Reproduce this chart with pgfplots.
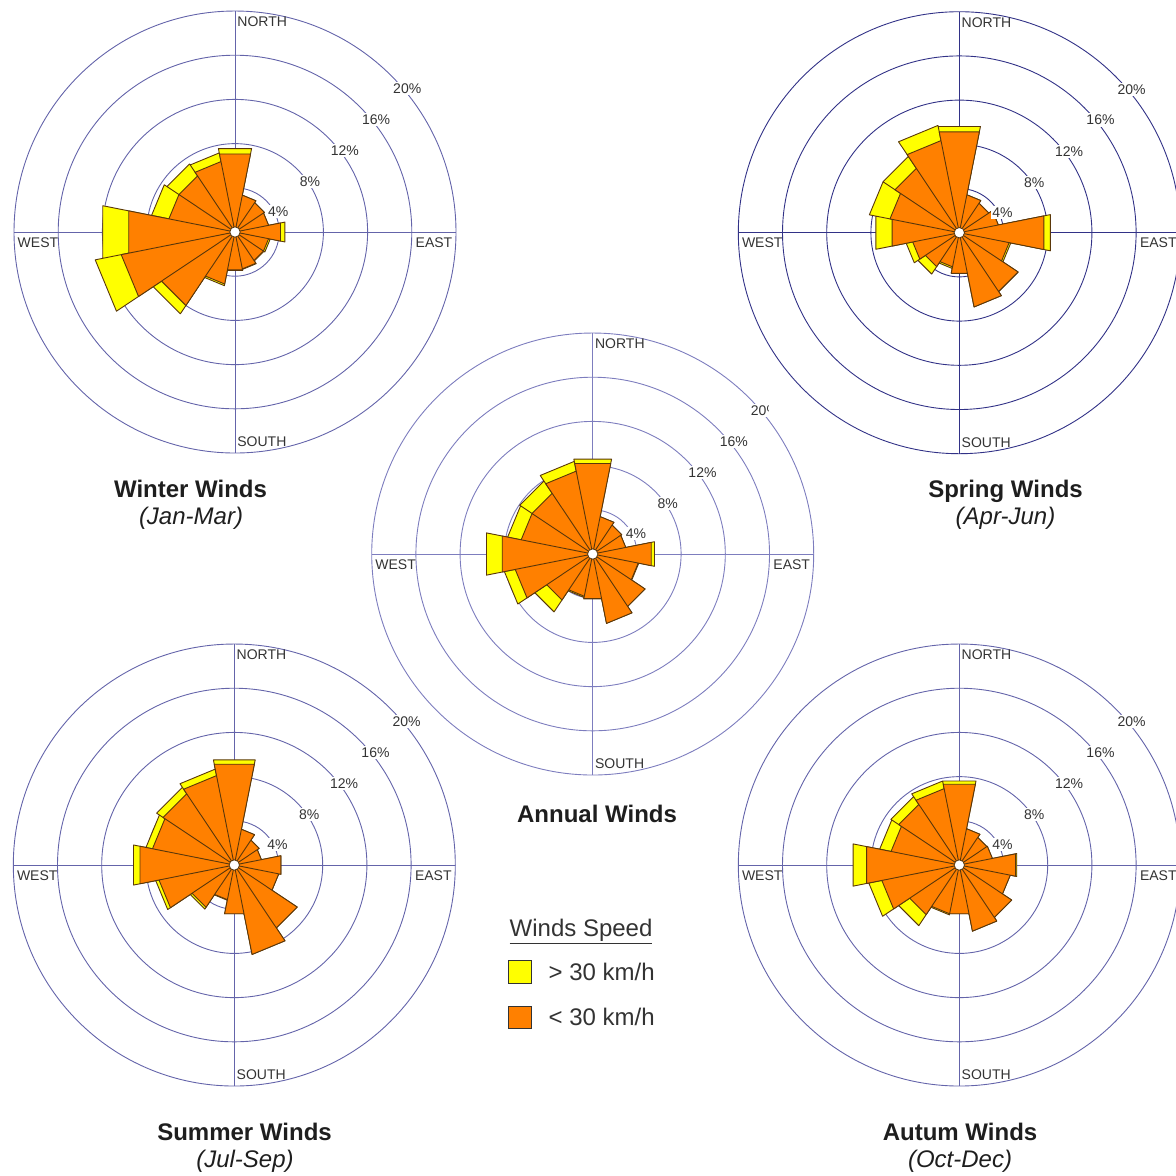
\documentclass[border=0pt]{standalone}
\usepackage{pgfplots}
\pgfplotsset{compat=1.18}
\usepackage{pgfplotstable}
\usepgfplotslibrary{polar}
\usepackage{fontspec}
\setmainfont{Liberation Sans}

\definecolor{orng}{RGB}{255,128,0}
\definecolor{yell}{RGB}{255,255,0}
\definecolor{edgec}{RGB}{90,55,10}
\definecolor{gridA}{RGB}{100,100,170}
\definecolor{gridS}{RGB}{50,50,135}
\definecolor{gridN}{RGB}{125,125,190}
\definecolor{txt}{RGB}{51,51,51}
\definecolor{ttl}{RGB}{30,30,30}

% dir = compass bearing (deg), lo = % of winds < 30 km/h, hi = % of winds > 30 km/h
\pgfplotstableread{
dir lo hi
0 7.2 0.5
22.5 3.4 0
45 3.2 0
67.5 3.1 0
90 4.2 0.4
112.5 3.1 0.15
135 3.1 0.05
157.5 3.4 0.05
180 3.5 0.05
202.5 4.8 0.15
225 8.0 0.9
247.5 10.5 2.4
270 9.8 2.4
292.5 6.1 1.6
315 6.1 1.3
337.5 6.5 0.8
}\winter

\pgfplotstableread{
dir lo hi
0 9.3 0.5
22.5 3.5 0
45 3.2 0
67.5 3.6 0
90 7.8 0.6
112.5 4.6 0.15
135 6.4 0
157.5 6.85 0
180 3.75 0
202.5 3.15 0.15
225 3.7 0.8
247.5 4.3 0.6
270 6.2 1.5
292.5 6.4 1.9
315 7.0 1.3
337.5 8.5 1.4
}\spring

\pgfplotstableread{
dir lo hi
0 8.35 0.4
22.5 3.45 0
45 3.15 0
67.5 3.05 0
90 5.4 0.3
112.5 4.2 0.05
135 5.7 0
157.5 6.4 0
180 4.1 0.05
202.5 3.9 0.1
225 5.0 1.3
247.5 7.15 1.0
270 8.35 1.45
292.5 6.6 1.25
315 6.6 1.35
337.5 7.65 0.9
}\annual

\pgfplotstableread{
dir lo hi
0 9.3 0.4
22.5 3.3 0
45 2.7 0
67.5 2.5 0
90 4.3 0
112.5 4.1 0
135 6.85 0
157.5 8.25 0
180 4.5 0
202.5 3.2 0.05
225 4.6 0.2
247.5 6.95 0.3
270 8.7 0.6
292.5 7.55 0.6
315 7.75 0.7
337.5 8.25 0.6
}\summer

\pgfplotstableread{
dir lo hi
0 7.45 0.3
22.5 3.35 0
45 3.0 0
67.5 3.05 0
90 5.2 0.1
112.5 4.7 0
135 5.7 0
157.5 6.1 0
180 4.5 0
202.5 4.5 0.1
225 5.4 1.2
247.5 7.15 1.2
270 8.55 1.25
292.5 6.3 1.05
315 6.6 0.85
337.5 7.05 0.7
}\autumn

% turns a table into one closed polygon of 22.5-degree wedges (polar coords)
\newcommand\buildpath[3]{%
  \gdef#2{}%
  \pgfplotstablegetrowsof{#1}%
  \pgfmathtruncatemacro\RoseN{\pgfplotsretval-1}%
  \foreach \k in {0,...,\RoseN}{%
    \pgfplotstablegetelem{\k}{dir}\of{#1}\let\RoseD\pgfplotsretval
    \pgfplotstablegetelem{\k}{lo}\of{#1}\let\RoseL\pgfplotsretval
    \pgfplotstablegetelem{\k}{hi}\of{#1}\let\RoseH\pgfplotsretval
    \pgfmathsetmacro\RoseR{\RoseL+#3*\RoseH}%
    \pgfmathsetmacro\RoseA{90-\RoseD+11.25}%
    \pgfmathsetmacro\RoseB{90-\RoseD-11.25}%
    \xdef#2{#2 (0,0) (\RoseA,\RoseR) (\RoseB,\RoseR)}%
  }%
  \xdef#2{#2 (0,0)}%
}
\buildpath{\winter}{\winterT}{1}\buildpath{\winter}{\winterL}{0}
\buildpath{\spring}{\springT}{1}\buildpath{\spring}{\springL}{0}
\buildpath{\annual}{\annualT}{1}\buildpath{\annual}{\annualL}{0}
\buildpath{\summer}{\summerT}{1}\buildpath{\summer}{\summerL}{0}
\buildpath{\autumn}{\autumnT}{1}\buildpath{\autumn}{\autumnL}{0}

\pgfplotsset{
  rose/.style={
    scale only axis, width=221pt, height=221pt, anchor=center,
    xmin=0, xmax=360, ymin=0, ymax=20,
    xtick={0,90,180,270}, ytick={4,8,12,16},
    xticklabels={}, yticklabels={},
    xmajorgrids, ymajorgrids,
    major tick length=0pt,
    clip=false,
  },
  gridcol/.style={major grid style={draw=#1, line width=0.45pt},
    axis line style={draw=#1, line width=0.45pt}},
  yelst/.style={fill=yell, draw=edgec, line width=0.45pt, line join=round},
  orgst/.style={fill=orng, draw=edgec, line width=0.45pt, line join=round},
}
\tikzset{
  lab/.style={font=\fontsize{7}{8}\selectfont, text=txt, inner sep=0pt},
  pct/.style={font=\fontsize{7}{8}\selectfont, text=txt, fill=white, inner sep=0.8pt},
  ttl/.style={font=\fontsize{12}{14}\selectfont\bfseries, text=ttl, anchor=base, inner sep=0pt},
  sub/.style={font=\fontsize{12}{14}\selectfont\itshape, text=ttl, anchor=base, inner sep=0pt},
}

\newcommand\rose[5]{%
\begin{polaraxis}[rose, at={(#1pt,#2pt)}, gridcol=#5]
  \edef\tmp{\noexpand\addplot[yelst] coordinates {#3};}\tmp
  \edef\tmp{\noexpand\addplot[orgst] coordinates {#4};}\tmp
  \draw[edgec, fill=white, line width=0.4pt] (axis cs:0,0) circle[radius=2.6pt];
  \node[lab, anchor=west, xshift=1pt] at (axis cs:90,19) {NORTH};
  \node[lab, anchor=west, xshift=1pt] at (axis cs:270,19) {SOUTH};
  \node[lab, anchor=east, yshift=-5.2pt] at (axis cs:0,19.7) {EAST};
  \node[lab, anchor=west, yshift=-5.2pt] at (axis cs:180,19.7) {WEST};
  \node[pct] at (axis cs:25,4.32) {4\%};
  \node[pct] at (axis cs:33.8,8.16) {8\%};
  \node[pct] at (axis cs:36.5,12.36) {12\%};
  \node[pct] at (axis cs:38.6,16.35) {16\%};
  \node[pct] at (axis cs:39.8,20.29) {20\%};
\end{polaraxis}}

\begin{document}
\begin{tikzpicture}
\path[use as bounding box] (0,0) rectangle (588pt,-587.5pt);
\clip (0,0) rectangle (588pt,-587.5pt);

\rose{117.5}{-116}{\winterT}{\winterL}{gridA}
\rose{479.65}{-116.35}{\springT}{\springL}{gridS}
\rose{296.35}{-277}{\annualT}{\annualL}{gridN}
\rose{117.15}{-432.5}{\summerT}{\summerL}{gridA}
\rose{479.65}{-432.5}{\autumnT}{\autumnL}{gridA}

% piece of the annual 20% label hidden in the original
\fill[white] (384.3pt,-201.5pt) rectangle (393pt,-208.3pt);

\node[ttl] at (95.25pt,-248.75pt) {Winter Winds};
\node[sub] at (95.5pt,-262.3pt) {(Jan-Mar)};
\node[ttl] at (502.75pt,-248.75pt) {Spring Winds};
\node[sub] at (502.75pt,-262.3pt) {(Apr-Jun)};
\node[ttl] at (298.5pt,-411.3pt) {Annual Winds};
\node[ttl] at (122.25pt,-570.3pt) {Summer Winds};
\node[sub] at (122.5pt,-583.8pt) {(Jul-Sep)};
\node[ttl] at (480pt,-570.3pt) {Autum Winds};
\node[sub] at (480pt,-583.8pt) {(Oct-Dec)};

% legend
\node[font=\fontsize{12}{14}\selectfont, text=txt, anchor=base west, inner sep=0pt] at (254.65pt,-468pt) {\underline{Winds Speed}};
\draw[fill=yell, draw=txt, line width=0.5pt] (254.15pt,-480.35pt) rectangle (265.85pt,-491.65pt);
\draw[fill=orng, draw=txt, line width=0.5pt] (254.15pt,-503pt) rectangle (265.85pt,-514.15pt);
\node[font=\fontsize{12}{14}\selectfont, text=txt, anchor=base west, inner sep=0pt] at (274.15pt,-490pt) {> 30 km/h};
\node[font=\fontsize{12}{14}\selectfont, text=txt, anchor=base west, inner sep=0pt] at (274.15pt,-512.5pt) {< 30 km/h};
\end{tikzpicture}
\end{document}
